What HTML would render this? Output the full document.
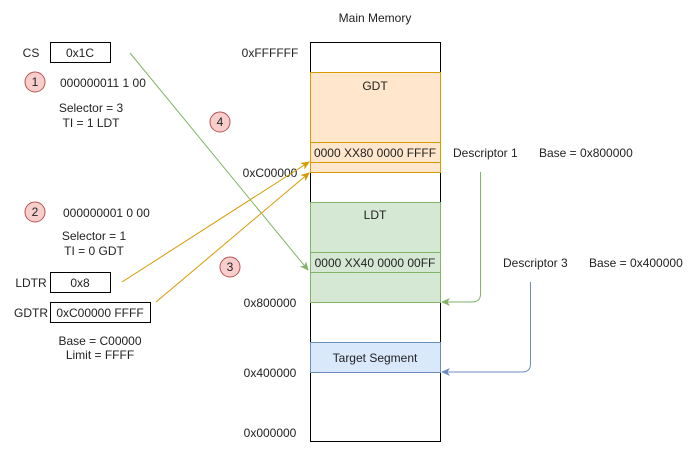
<!DOCTYPE html>
<html><head><meta charset="utf-8"><style>
html,body{margin:0;padding:0;background:#fff;}
svg text{font-family:"Liberation Sans",Arial,sans-serif;font-size:12px;fill:#222;}
</style></head><body>
<svg width="692" height="453" viewBox="0 0 692 453" xmlns="http://www.w3.org/2000/svg">
<defs>
<marker id="ao" markerWidth="10" markerHeight="10" refX="8" refY="4" orient="auto" markerUnits="userSpaceOnUse"><path d="M0,0 L9,4 L0,8 L2.5,4 z" fill="#d79b00"/></marker>
<marker id="ag" markerWidth="10" markerHeight="10" refX="8" refY="4" orient="auto" markerUnits="userSpaceOnUse"><path d="M0,0 L9,4 L0,8 L2.5,4 z" fill="#82b366"/></marker>
<marker id="ab" markerWidth="10" markerHeight="10" refX="8" refY="4" orient="auto" markerUnits="userSpaceOnUse"><path d="M0,0 L9,4 L0,8 L2.5,4 z" fill="#6c8ebf"/></marker>
</defs>
<text x="375" y="22" text-anchor="middle">Main Memory</text>
<rect x="310.5" y="42.5" width="130" height="399" fill="#fff" stroke="#000"/>
<rect x="310.5" y="72.5" width="130" height="100" fill="#ffe6cc" stroke="#d79b00"/>
<rect x="310.5" y="142.5" width="130" height="20" fill="#ffe6cc" stroke="#d79b00"/>
<text x="375" y="90" text-anchor="middle">GDT</text>
<text x="375" y="157" text-anchor="middle" font-size="11.5">0000 XX80 0000 FFFF</text>
<rect x="310.5" y="202.5" width="130" height="100" fill="#d5e8d4" stroke="#82b366"/>
<rect x="310.5" y="252.5" width="130" height="20" fill="#d5e8d4" stroke="#82b366"/>
<text x="375" y="219" text-anchor="middle">LDT</text>
<text x="375" y="267" text-anchor="middle" font-size="11.5">0000 XX40 0000 00FF</text>
<rect x="310.5" y="342.5" width="130" height="30" fill="#dae8fc" stroke="#6c8ebf"/>
<text x="375" y="362" text-anchor="middle">Target Segment</text>
<text x="270" y="57" text-anchor="middle">0xFFFFFF</text>
<text x="270" y="177" text-anchor="middle">0xC00000</text>
<text x="270" y="307" text-anchor="middle">0x800000</text>
<text x="270" y="377" text-anchor="middle">0x400000</text>
<text x="270" y="437" text-anchor="middle">0x000000</text>
<text x="453" y="157">Descriptor 1</text>
<text x="539" y="157">Base = 0x800000</text>
<text x="503" y="267">Descriptor 3</text>
<text x="589" y="267">Base = 0x400000</text>
<text x="31" y="57" text-anchor="middle">CS</text>
<rect x="50.5" y="42.5" width="60" height="20" fill="#fff" stroke="#000"/>
<text x="80" y="57" text-anchor="middle">0x1C</text>
<circle cx="35" cy="82" r="10" fill="#f8cecc" stroke="#b85450"/>
<text x="35" y="86" text-anchor="middle">1</text>
<text x="60" y="87">000000011 1 00</text>
<text x="91" y="112" text-anchor="middle">Selector = 3</text>
<text x="91" y="127" text-anchor="middle">TI = 1 LDT</text>
<circle cx="220" cy="122" r="10" fill="#f8cecc" stroke="#b85450"/>
<text x="220" y="126" text-anchor="middle">4</text>
<circle cx="35" cy="212" r="10" fill="#f8cecc" stroke="#b85450"/>
<text x="35" y="216" text-anchor="middle">2</text>
<text x="63" y="217">000000001 0 00</text>
<text x="94" y="240" text-anchor="middle">Selector = 1</text>
<text x="94" y="255" text-anchor="middle">TI = 0 GDT</text>
<circle cx="230" cy="267" r="10" fill="#f8cecc" stroke="#b85450"/>
<text x="230" y="271" text-anchor="middle">3</text>
<text x="31" y="287" text-anchor="middle">LDTR</text>
<rect x="50.5" y="272.5" width="60" height="20" fill="#fff" stroke="#000"/>
<text x="80" y="287" text-anchor="middle">0x8</text>
<text x="31" y="317" text-anchor="middle">GDTR</text>
<rect x="50.5" y="302.5" width="100" height="20" fill="#fff" stroke="#000"/>
<text x="100" y="317" text-anchor="middle">0xC00000 FFFF</text>
<text x="100" y="345" text-anchor="middle">Base = C00000</text>
<text x="100" y="359" text-anchor="middle">Limit = FFFF</text>
<line x1="130" y1="53" x2="308" y2="270" stroke="#82b366" marker-end="url(#ag)"/>
<line x1="122" y1="282" x2="309" y2="162" stroke="#d79b00" marker-end="url(#ao)"/>
<line x1="156" y1="302" x2="309" y2="173" stroke="#d79b00" marker-end="url(#ao)"/>
<path d="M480.5 172 V294 Q480.5 302 472 302 H442" fill="none" stroke="#82b366" marker-end="url(#ag)"/>
<path d="M530.5 282 V364 Q530.5 372 522 372 H442" fill="none" stroke="#6c8ebf" marker-end="url(#ab)"/>
</svg>
</body></html>
